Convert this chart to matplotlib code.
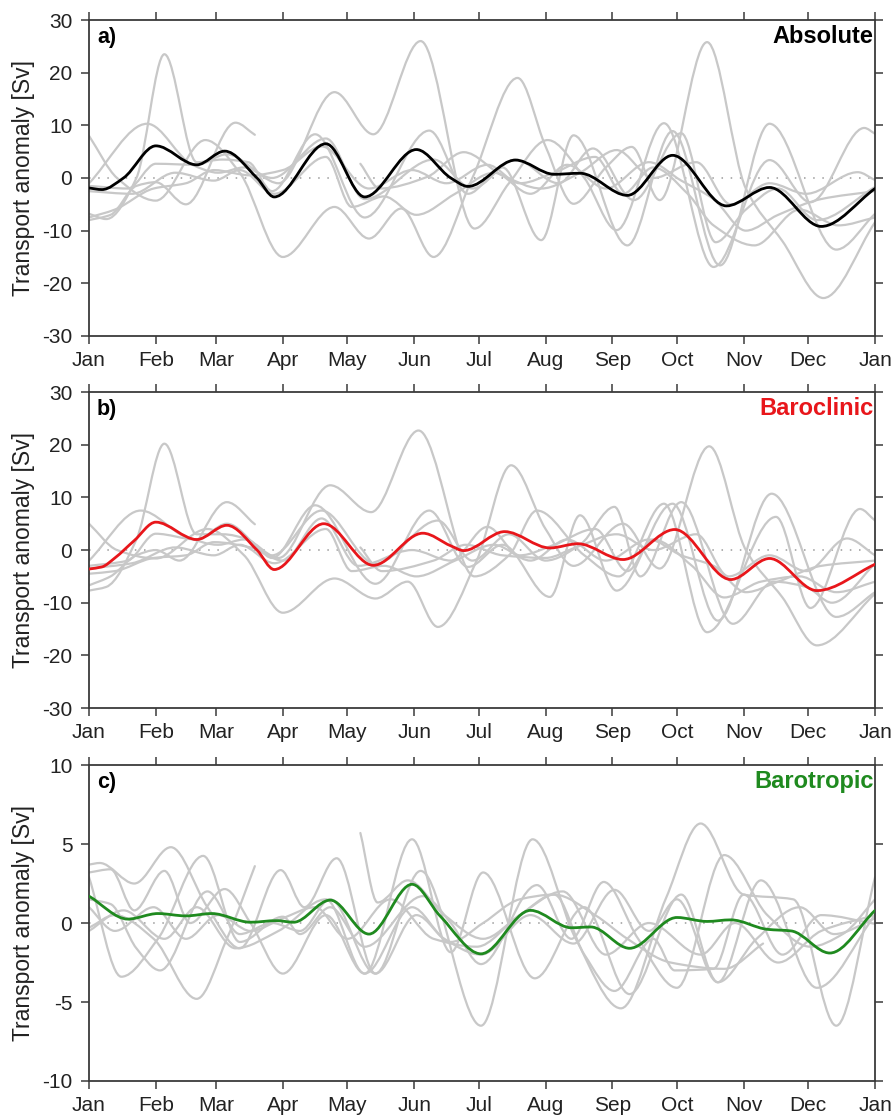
import numpy as np
import matplotlib
matplotlib.use("Agg")
import matplotlib.pyplot as plt
from matplotlib.path import Path
from matplotlib.patches import PathPatch

plt.rcParams["font.family"] = ["Liberation Sans", "DejaVu Sans"]
plt.rcParams["axes.unicode_minus"] = False

# month starts (day of year) and labels
month_days = [0, 31, 59, 90, 120, 151, 181, 212, 243, 273, 304, 334, 365]
month_labels = ["Jan", "Feb", "Mar", "Apr", "May", "Jun", "Jul",
                "Aug", "Sep", "Oct", "Nov", "Dec", "Jan"]

# ---- a) absolute transport: (day, Sv) ---------------------------------
abs_mean = [(0, -1.9), (6, -2.2), (16, 0), (31, 6.1), (50, 2.5), (63, 5.1),
            (78, 0), (86, -3.6), (110, 6.5), (128, -3.6), (152, 5.4), (168, 0),
            (176, -1.6), (198, 3.4), (216, 0.7), (228, 0.9), (250, -3.3),
            (271, 4.3), (296, -5.3), (316, -1.8), (340, -9.2), (365, -2.0)]

abs_years = [
    [(0, 8.0), (13, 0), (31, -4.3), (54, 7.2), (70, 1), (90, -15), (114, -5.5),
     (130, -11.5), (145, -5.8), (160, -15), (178, 0), (199, 19), (212, 6),
     (225, -4.9), (240, 2), (252, 5.9), (265, -4.2), (287, 25.8), (305, -2),
     (322, -12), (341, -22.8), (365, -8.4)],
    [(0, -6.8), (8, -7.8), (22, 0), (35, 23.5), (50, 3), (62, 3.5), (74, 3),
     (85, -2.5), (105, 8.3), (128, -7.5), (158, 9), (176, -3), (192, 2),
     (210, -11.8), (225, 8.1), (250, -12.8), (271, 8.9), (293, -16.6),
     (316, 10.3), (347, -13.6), (365, -6.8)],
    [(0, -1.0), (27, 10.3), (48, 2.5), (60, 1), (72, 2), (88, -1), (114, 16.3),
     (132, 8.3), (154, 26), (179, -9.6), (195, -1), (213, 7.2), (230, 0),
     (245, -9.9), (267, 10.4), (290, -16.9), (316, 3.4), (335, -4.6),
     (360, 9.5), (365, 8.4)],
    [(0, -1.5), (18, -2), (31, 2.7), (50, 2.5), (64, 4.5), (85, 0), (110, 7.5),
     (128, -4), (160, 3.5), (178, -2), (198, 3.5), (218, -1), (234, 5.6),
     (253, -4.2), (275, 8.5), (291, -12.2), (305, -6), (320, -2), (338, -8),
     (365, -1.7)],
    [(0, -8), (10, -7), (22, -1.5), (31, -0.8), (45, -5), (68, 10.5), (77, 8.2)],
    [(126, 2.7), (135, -2), (157, 0.2), (174, 4.9), (192, 0.5), (210, -2),
     (228, 1), (245, 5.3), (262, 0), (282, 3), (298, -5), (316, -1),
     (333, -3), (357, 1.1), (365, -0.4)],
    [(0, -7.5), (12, -6), (30, -2), (45, -1), (58, 1.5), (75, 0.5), (90, 1.5),
     (108, 6), (130, -2), (150, 1.5), (166, -1), (185, 2.5), (200, -1),
     (216, 1), (235, 4), (248, -3), (262, 2), (278, -3), (290, -9),
     (309, -12.8), (330, -6), (348, -9), (365, -7.5)],
    [(0, -2.5), (20, -3), (40, 1), (58, -0.5), (70, 1.5), (86, -3), (110, 4),
     (122, -5.5), (137, -3.5), (152, -7), (170, -3), (188, 1), (205, -3),
     (222, 2.5), (240, -2), (260, 3), (275, -0.5), (290, -4), (305, -10),
     (320, -7), (340, -4), (365, -2.5)],
]

# ---- b) baroclinic transport -------------------------------------------
bc_mean = [(0, -3.6), (6, -3.2), (12, -1.5), (21, 1.8), (31, 5.3), (50, 2.0),
           (64, 4.7), (78, 0), (86, -3.7), (109, 5.0), (132, -2.9), (155, 3.2),
           (168, 0.8), (174, -0.1), (193, 3.5), (214, 0.4), (227, 1.2),
           (248, -1.8), (272, 3.9), (298, -5.6), (316, -1.6), (338, -7.7),
           (365, -2.7)]

bc_years = [
    [(0, 5.0), (13, 0), (31, -1.6), (55, 4), (72, -1), (90, -11.9), (114, -5.4),
     (133, -9.2), (148, -6), (162, -14.6), (180, -2), (196, 16.1), (212, 4),
     (225, -3), (248, 5), (265, -3.5), (288, 19.7), (305, 0), (322, -9),
     (338, -18.1), (365, -8.3)],
    [(0, -7.7), (8, -7), (22, 2), (35, 20.2), (50, 3), (62, 3), (74, 2),
     (85, -1.5), (105, 8.5), (133, -6.4), (158, 7.5), (176, -3.2), (192, 1),
     (214, -8.9), (228, 6.6), (245, -7.7), (271, 8.8), (292, -13.4),
     (317, 10.7), (347, -12.7), (365, -8)],
    [(0, -2), (24, 7.5), (45, 2.5), (60, 1), (72, 2), (88, -1.5), (112, 12.3),
     (131, 7.2), (153, 22.7), (179, -5), (195, -1), (208, 7.5), (230, -1),
     (246, -5), (267, 8.8), (287, -15.6), (319, 6.3), (335, -11), (358, 7.8),
     (365, 5.6)],
    [(0, -3), (18, -2), (31, 3.1), (50, 2), (64, 5), (85, -1), (108, 7.5),
     (133, -2.6), (162, 5.6), (178, -2), (195, 3), (212, -2), (228, 1),
     (244, 8.2), (256, -5), (275, 9.1), (299, -14), (318, -6), (333, -7),
     (345, -10), (365, -2.6)],
    [(0, -6.7), (10, -5), (22, -1), (31, 0), (42, -2), (64, 9.1), (77, 4.9)],
    [(126, 0.5), (136, -4), (160, -2), (175, 1), (192, -1), (212, -1.5),
     (226, 0.5), (245, 3), (262, 0), (282, 3), (297, -5), (316, -1),
     (333, -4), (352, 2.2), (365, -1)],
    [(0, -4.5), (12, -4), (30, -1.5), (45, -1), (58, 1.5), (75, 0.5), (90, -2),
     (108, 6), (125, -3), (150, 0), (168, -2), (185, 4.4), (200, -1),
     (216, 1), (235, 4), (250, -4), (262, 2), (280, -3), (295, -9),
     (312, -6), (330, -5), (347, -8), (365, -6)],
    [(0, -3.5), (20, -2.5), (40, 0.5), (58, -1), (70, 1), (86, -2.5), (110, 4),
     (122, -4), (137, -3), (152, -5), (170, -2), (188, 1), (205, -2),
     (222, 2), (240, -2), (260, 2), (275, -1), (290, -3), (305, -8),
     (320, -6), (340, -3), (365, -2)],
]

# ---- c) barotropic transport -------------------------------------------
bt_mean = [(0, 1.7), (18, 0.25), (32, 0.6), (45, 0.45), (57, 0.6), (75, 0.05),
           (87, 0.15), (95, 0.05), (112, 1.45), (130, -0.7), (150, 2.45),
           (163, 0.45), (182, -1.95), (205, 0.8), (224, -0.3), (233, -0.25),
           (251, -1.6), (273, 0.35), (287, 0.1), (298, 0.2), (315, -0.4),
           (326, -0.5), (344, -1.9), (365, 0.8)]

bt_years = [
    [(0, 3.2), (10, 3.4), (21, 0.8), (35, 3.3), (47, 0), (63, 2.15), (75, 0),
     (90, -3.2), (110, 0.5), (128, -3.2), (150, 5.3), (168, -1.85),
     (183, 3.2), (207, -3.5), (230, 1), (251, -4.5), (275, 1.8),
     (292, -3.75), (312, 2.7), (338, -4.1), (365, 0.5)],
    [(0, 3.7), (5, 3.8), (21, 2.5), (38, 4.8), (55, 1), (70, -1.6), (89, 3.35),
     (100, 1), (115, 4.1), (133, -3.2), (154, 3.3), (182, -6.5), (206, 5.3),
     (226, -1), (247, -5.4), (268, 1.6), (284, 6.3), (304, 1.8), (327, 1.5),
     (347, -6.5), (365, 2.9)],
    [(0, 2.9), (15, -3.4), (32, -1.0), (53, 4.25), (70, -1.2), (90, 0.4),
     (98, -0.7), (112, 1), (128, -1.5), (155, 1.7), (168, 0), (182, -2.6),
     (208, 2.4), (224, -1), (239, 2.6), (255, -1), (273, -4.1), (295, 4.3),
     (315, 0.5), (335, -1.5), (350, -0.7), (365, 1.5)],
    [(0, 1.5), (10, 1.2), (22, -1.6), (33, -3.0), (55, 2), (70, -0.7), (85, 0),
     (98, -0.5), (112, 1.5), (133, -3.2), (152, 0.5), (168, -1.2), (183, 0),
     (200, 1.5), (216, 1.8), (230, -2), (244, -4.3), (262, -1), (272, -3),
     (290, -2.9), (304, 1.8), (322, -2), (340, 0.5), (365, -0.05)],
    [(0, -0.3), (12, 0.5), (30, -1), (50, -4.8), (64, -1), (77, 3.6)],
    [(126, 5.7), (134, 1.3), (148, 2.7), (165, 0.5), (183, -1), (200, 0.5),
     (216, 1.8), (235, 0.5), (250, -1), (270, -2.5), (295, -2.9), (313, -1.3)],
    [(0, -0.5), (16, 0.8), (35, -1.0), (50, 1), (68, -1.6), (88, -0.5),
     (110, 1.5), (128, -3.2), (150, 1), (165, -1), (182, -2), (205, 0.5),
     (225, -1.3), (244, 2.1), (260, -0.5), (273, 1.5), (292, -3.75),
     (310, -1), (330, 1), (346, -0.7), (365, 0.3)],
    [(0, 1.0), (12, -0.5), (30, 1), (45, -1), (60, 0.5), (75, -0.5), (90, 0.3),
     (105, 1), (120, -1), (140, 1.5), (160, -1), (180, -1.5), (200, 0.5),
     (220, 2), (240, -2), (260, 0), (284, -2), (300, 0), (320, -2.5),
     (340, -0.5), (365, 0.5)],
]


def pchip_path(pts):
    """Smooth monotone cubic path through the (day, value) points."""
    x, y = np.array(pts, float).T
    h = np.diff(x)
    d = np.diff(y) / h
    m = np.zeros_like(y)
    for i in range(1, len(y) - 1):
        if d[i - 1] * d[i] > 0:
            w1 = 2 * h[i] + h[i - 1]
            w2 = h[i] + 2 * h[i - 1]
            m[i] = (w1 + w2) / (w1 / d[i - 1] + w2 / d[i])
    m[0], m[-1] = d[0], d[-1]
    verts = [(x[0], y[0])]
    codes = [Path.MOVETO]
    for i in range(len(x) - 1):
        verts += [(x[i] + h[i] / 3, y[i] + m[i] * h[i] / 3),
                  (x[i + 1] - h[i] / 3, y[i + 1] - m[i + 1] * h[i] / 3),
                  (x[i + 1], y[i + 1])]
        codes += [Path.CURVE4] * 3
    return Path(verts, codes)


def draw_curve(ax, pts, color, lw, z):
    ax.add_patch(PathPatch(pchip_path(pts), fill=False, edgecolor=color,
                           lw=lw, zorder=z, capstyle="round",
                           joinstyle="round"))


panels = [
    ("a)", "Absolute", "black", abs_mean, abs_years, (-30, 30), 10),
    ("b)", "Baroclinic", "#e8161b", bc_mean, bc_years, (-30, 30), 10),
    ("c)", "Barotropic", "#1f8a1f", bt_mean, bt_years, (-10, 10), 5),
]

fig = plt.figure(figsize=(8.93, 11.18), dpi=100)
bottoms = [0.6995, 0.3667, 0.0331]
spine_c = "#3a3a3a"

for (tag, name, col, mean, years, ylim, step), b in zip(panels, bottoms):
    ax = fig.add_axes([0.0997, b, 0.8802, 0.2826])
    ax.set_xlim(0, 365)
    ax.set_ylim(*ylim)
    ax.axhline(0, color="#9a9a9a", lw=1.1, ls=(0, (1, 5)), zorder=1)
    for seg in years:
        draw_curve(ax, seg, "#c8c8c8", 1.6, 2)
    draw_curve(ax, mean, col, 2.0, 3)

    ax.set_xticks(month_days)
    ax.set_xticklabels(month_labels)
    ax.set_yticks(np.arange(ylim[0], ylim[1] + 1, step))
    ax.tick_params(direction="out", length=6, width=1.1, color=spine_c,
                   labelsize=15, labelcolor="#222222", top=True, right=True)
    ax.tick_params(axis="x", pad=5)
    ax.tick_params(axis="y", pad=6)
    for s in ax.spines.values():
        s.set_color(spine_c)
        s.set_linewidth(1.3)
    ax.set_ylabel("Transport anomaly [Sv]", fontsize=16.5, labelpad=5,
                  color="#222222")

    ax.text(0.010, 0.945, tag, transform=ax.transAxes, fontsize=15.5,
            fontweight="bold", ha="left", va="center")
    ax.text(0.998, 0.948, name, transform=ax.transAxes, fontsize=17,
            fontweight="bold", color=col, ha="right", va="center")

fig.savefig("out.png", dpi=100)
